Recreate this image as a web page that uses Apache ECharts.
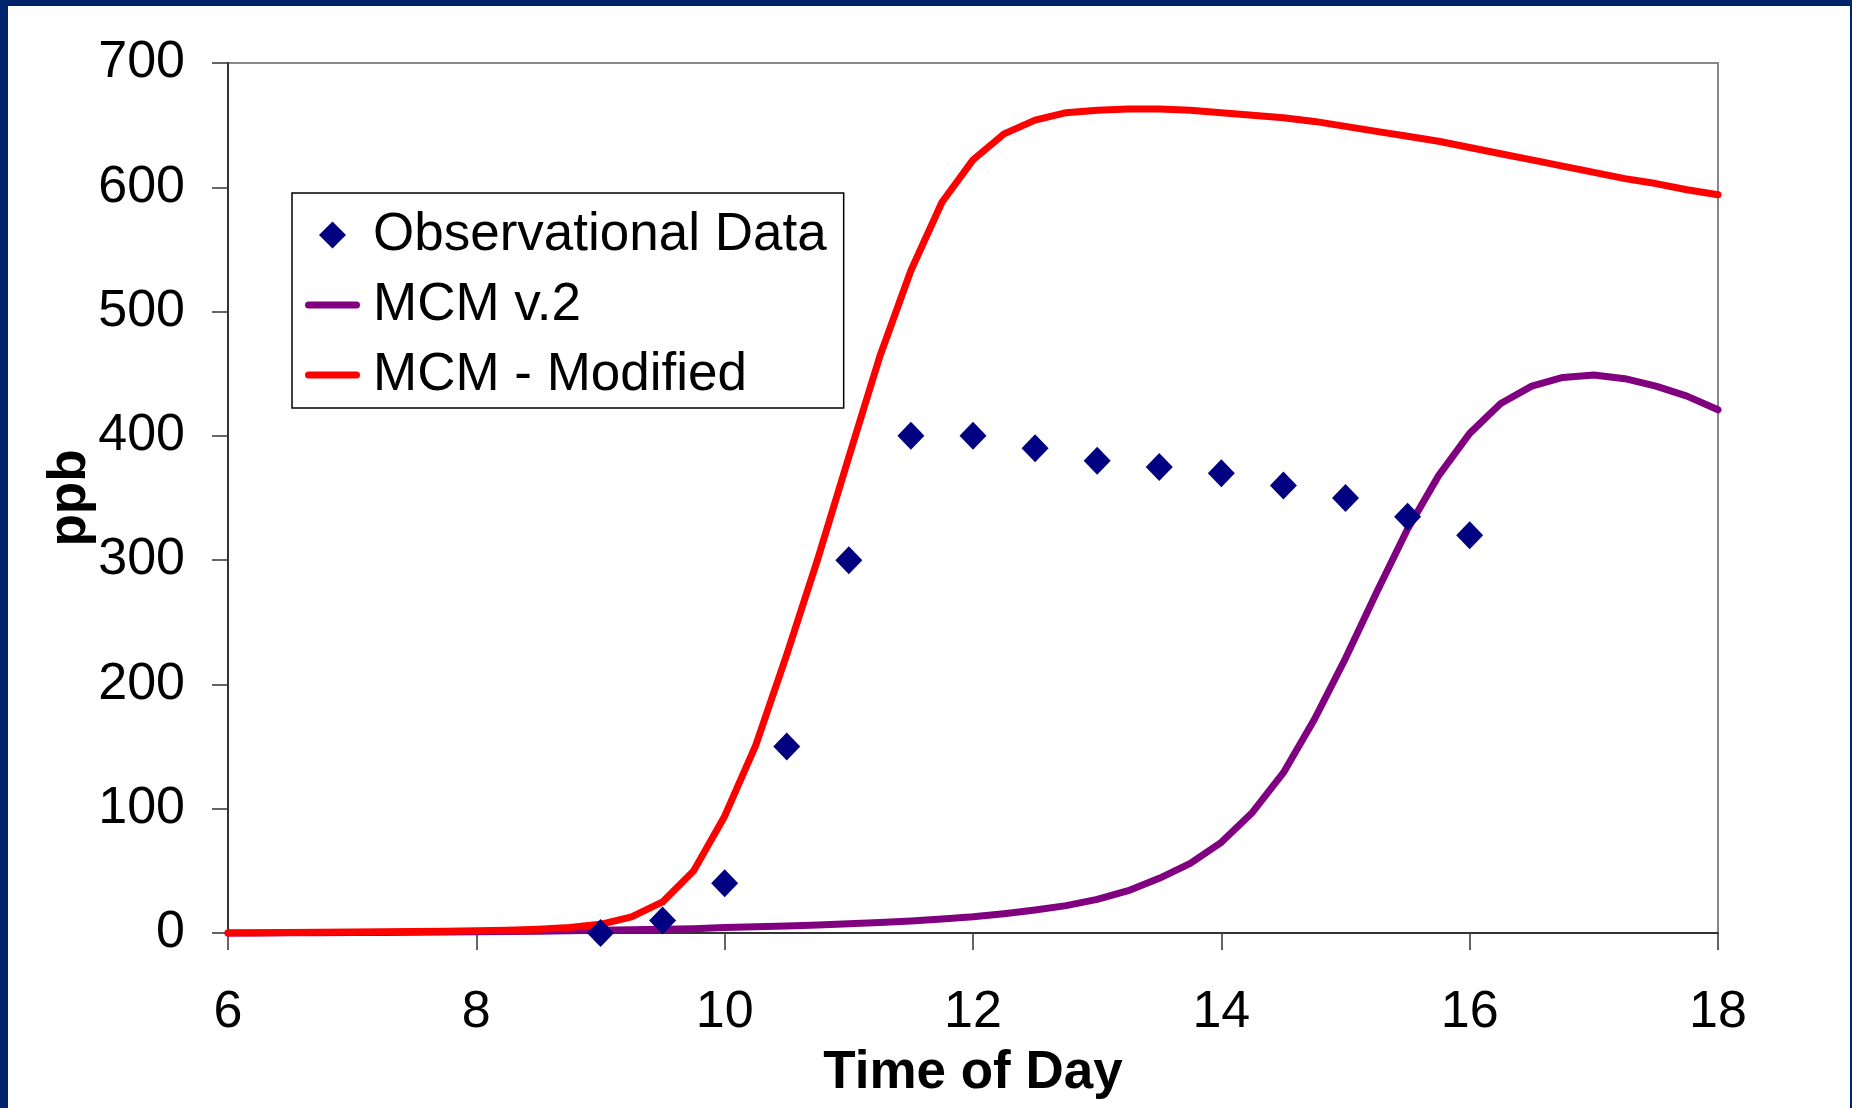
<!DOCTYPE html>
<html><head><meta charset="utf-8">
<script src="https://cdn.jsdelivr.net/npm/echarts@6/dist/echarts.min.js"></script>
<style>
html,body{margin:0;padding:0;background:#fff;overflow:hidden;}
#chart{position:absolute;left:0;top:0;width:1852px;height:1108px;}
.bd{position:absolute;background:#00246b;}
</style></head><body>
<div id="chart"></div>
<div class="bd" style="left:0;top:0;width:1852px;height:6px"></div>
<div class="bd" style="left:0;top:0;width:8px;height:1108px"></div>
<div class="bd" style="right:0;top:0;width:2px;height:1108px"></div>
<script>
// ---- data ----
const modelTimes = [6,6.25,6.5,6.75,7,7.25,7.5,7.75,8,8.25,8.5,8.75,9,9.25,9.5,9.75,10,10.25,10.5,10.75,11,11.25,11.5,11.75,12,12.25,12.5,12.75,13,13.25,13.5,13.75,14,14.25,14.5,14.75,15,15.25,15.5,15.75,16,16.25,16.5,16.75,17,17.25,17.5,17.75,18];
const mcmV2 = [0,0.1,0.2,0.3,0.4,0.5,0.6,0.8,1.0,1.2,1.5,1.8,2.2,2.6,3.0,3.5,4.5,5.0,5.7,6.5,7.5,8.5,9.7,11.2,13,15.5,18.5,22,27,34,44,56,73,97,129,172,221,274,325,368,402,426,440,447,449,446,440,432,421];
const mcmModified = [0,0.2,0.4,0.6,0.8,1.0,1.2,1.5,1.8,2.3,3.1,4.4,7,13,25,50,94,151,224,301,383,464,533,588,622,643,654,660,662,663,663,662,660,658,656,653,649,645,641,637,632,627,622,617,612,607,603,598,594];
const obsTimes = [9,9.5,10,10.5,11,11.5,12,12.5,13,13.5,14,14.5,15,15.5,16];
const obsValues = [0,10,40,150,300,400,400,390,380,375,370,360,350,335,320];
const seriesNames = ['Observational Data','MCM v.2','MCM - Modified'];
const xTitle = 'Time of Day';
const yTitle = 'ppb';

const FONT = 'Liberation Sans, Arial, Helvetica, sans-serif';
const zip = (xs, ys) => xs.map((x, i) => [x, ys[i]]);
const diamondIcon = 'path://M13.5,0 L27,13.5 L13.5,27 L0,13.5 Z';
const barIcon = 'path://M3.5,0 L51.5,0 A3.5,3.5 0 0 1 51.5,7 L3.5,7 A3.5,3.5 0 0 1 3.5,0 Z';

const chart = echarts.init(document.getElementById('chart'), null, {renderer: 'canvas'});
chart.setOption({
  animation: false,
  backgroundColor: '#fff',
  grid: {left: 228, top: 63, width: 1490, height: 870, show: true, borderColor: '#888', borderWidth: 2, backgroundColor: 'transparent', containLabel: false},
  xAxis: {
    type: 'value', min: 6, max: 18, interval: 2,
    axisLine: {onZero: false, lineStyle: {color: '#333', width: 2}},
    axisTick: {length: 17, lineStyle: {color: '#333', width: 1.5}},
    axisLabel: {fontSize: 52, margin: 54, color: '#000', fontFamily: FONT},
    splitLine: {show: false},
    name: xTitle, nameLocation: 'middle', nameGap: 114, nameMoveOverlap: false,
    nameTextStyle: {fontSize: 53, fontWeight: 'bold', color: '#000', fontFamily: FONT}
  },
  yAxis: {
    type: 'value', min: 0, max: 700, interval: 100,
    axisLine: {show: true, onZero: false, lineStyle: {color: '#333', width: 2}},
    axisTick: {show: true, length: 16, lineStyle: {color: '#333', width: 1.5}},
    axisLabel: {fontSize: 52, margin: 43, color: '#000', fontFamily: FONT},
    splitLine: {show: false},
    name: yTitle, nameLocation: 'middle', nameGap: 131, nameRotate: 90, nameMoveOverlap: false,
    nameTextStyle: {fontSize: 53, fontWeight: 'bold', color: '#000', fontFamily: FONT}
  },
  legend: {
    left: 292, top: 193, orient: 'vertical',
    selectedMode: false,
    padding: [12, 17, 3, 13],
    itemGap: 10, itemWidth: 55, itemHeight: 27,
    backgroundColor: '#fff', borderColor: '#000', borderWidth: 1.5, borderRadius: 0,
    symbolKeepAspect: true,
    textStyle: {fontSize: 53, color: '#000', fontFamily: FONT, lineHeight: 60, padding: [0, 0, 0, 8]},
    data: [
      {name: seriesNames[0], icon: diamondIcon, itemStyle: {color: '#000080', borderWidth: 0, opacity: 1}},
      {name: seriesNames[1], icon: barIcon, itemStyle: {color: '#800080', borderWidth: 0, opacity: 1}},
      {name: seriesNames[2], icon: barIcon, itemStyle: {color: '#ff0000', borderWidth: 0, opacity: 1}}
    ]
  },
  series: [
    {
      name: seriesNames[1], type: 'line', data: zip(modelTimes, mcmV2),
      symbol: 'none', showSymbol: false, clip: false, z: 2,
      itemStyle: {color: '#800080'},
      lineStyle: {color: '#800080', width: 7, cap: 'round', join: 'round'}
    },
    {
      name: seriesNames[2], type: 'line', data: zip(modelTimes, mcmModified),
      symbol: 'none', showSymbol: false, clip: false, z: 3,
      itemStyle: {color: '#ff0000'},
      lineStyle: {color: '#ff0000', width: 7, cap: 'round', join: 'round'}
    },
    {
      name: seriesNames[0], type: 'scatter', data: zip(obsTimes, obsValues),
      symbol: 'diamond', symbolSize: [27, 28], z: 4, clip: false,
      itemStyle: {color: '#000080', opacity: 1}
    }
  ]
});
</script>
</body></html>
